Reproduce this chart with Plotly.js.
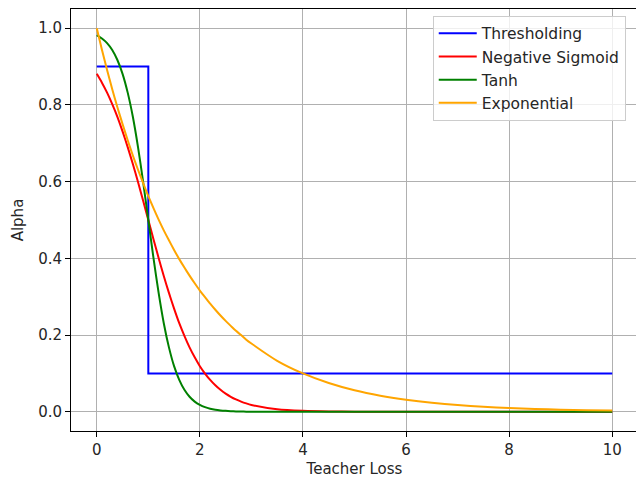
<!DOCTYPE html>
<html>
<head>
<meta charset="utf-8">
<script src="https://cdn.plot.ly/plotly-3.0.1.min.js"></script>
<style>
html,body{margin:0;padding:0;overflow:hidden;background:#fff;}
#chart{width:638px;height:478px;}
</style>
</head>
<body>
<div id="chart"></div>
<script>
// Thresholding (step)
var threshX = [0, 1, 1, 10];
var threshY = [0.9, 0.9, 0.1, 0.1];

// shared x grid for smooth curves
var curveX = [0,0.1,0.2,0.3,0.4,0.5,0.6,0.7,0.8,0.9,1.0,1.1,1.2,1.3,1.4,1.5,1.6,1.7,1.8,1.9,2.0,
              2.1,2.2,2.3,2.4,2.5,2.6,2.7,2.8,2.9,3.0,3.5,4.0,4.5,5.0,5.5,6.0,6.5,7.0,7.5,8.0,8.5,9.0,9.5,10.0];

var sigmoidY = [0.881,0.858,0.832,0.802,0.769,0.731,0.690,0.646,0.599,0.550,0.500,0.450,0.401,0.354,0.310,0.269,0.231,0.198,0.168,0.142,0.119,
                0.0998,0.0832,0.0691,0.0573,0.0474,0.0392,0.0323,0.0266,0.0219,0.018,0.0067,0.0025,0.0009,0.0003,0.0001,0,0,0,0,0,0,0,0,0];

var tanhY = [0.982,0.973,0.961,0.943,0.917,0.881,0.832,0.769,0.690,0.599,0.500,0.401,0.310,0.231,0.168,0.119,0.0832,0.0573,0.0392,0.0266,0.018,
             0.0121,0.0082,0.0055,0.0037,0.0025,0.0017,0.0011,0.0007,0.0005,0.0003,0,0,0,0,0,0,0,0,0,0,0,0,0,0];

var expY = [1.0,0.944,0.891,0.841,0.794,0.750,0.708,0.668,0.631,0.596,0.562,0.531,0.501,0.473,0.447,0.422,0.398,0.376,0.355,0.335,0.316,
            0.299,0.282,0.266,0.251,0.237,0.224,0.211,0.200,0.188,0.178,0.133,0.100,0.075,0.056,0.042,0.0316,0.0237,0.0178,0.0133,0.010,0.0075,0.0056,0.0042,0.0032];

var seriesNames = ['Thresholding', 'Negative Sigmoid', 'Tanh', 'Exponential'];
var xTicks = [0, 2, 4, 6, 8, 10];
var yTicks = [0.0, 0.2, 0.4, 0.6, 0.8, 1.0];

var FONT = 'DejaVu Sans, sans-serif';

var traces = [
  {x: threshX, y: threshY, name: seriesNames[0], mode: 'lines', line: {color: '#0000ff', width: 2}},
  {x: curveX, y: sigmoidY, name: seriesNames[1], mode: 'lines', line: {color: '#ff0000', width: 2, shape: 'spline', smoothing: 0.6}},
  {x: curveX, y: tanhY, name: seriesNames[2], mode: 'lines', line: {color: '#008000', width: 2, shape: 'spline', smoothing: 0.6}},
  {x: curveX, y: expY, name: seriesNames[3], mode: 'lines', line: {color: '#ffa500', width: 2, shape: 'spline', smoothing: 0.6}}
];

var axisCommon = {
  showline: true, mirror: true, linecolor: '#000', linewidth: 1,
  ticks: 'outside', ticklen: 5, tickwidth: 1, tickcolor: '#000',
  showgrid: true, gridcolor: '#b0b0b0', gridwidth: 1,
  zeroline: false,
  tickfont: {family: FONT, size: 15, color: '#262626'}
};

var layout = {
  width: 638, height: 478,
  margin: {l: 71, r: 0, t: 9, b: 47},
  paper_bgcolor: '#fff', plot_bgcolor: '#fff',
  font: {family: FONT, color: '#262626'},
  showlegend: true,
  xaxis: Object.assign({}, axisCommon, {
    range: [-0.5, 10.5], tickvals: xTicks, ticktext: xTicks.map(String),
    title: {text: 'Teacher Loss', font: {family: FONT, size: 15, color: '#262626'}, standoff: 6}
  }),
  yaxis: Object.assign({}, axisCommon, {
    range: [-0.05, 1.05], tickvals: yTicks, ticktext: yTicks.map(function(v){return v.toFixed(1);}),
    title: {text: 'Alpha', font: {family: FONT, size: 15, color: '#262626'}, standoff: 10}
  }),
  legend: {
    x: 0.638, xanchor: 'left', y: 0.984, yanchor: 'top',
    bgcolor: 'rgba(255,255,255,0.8)', bordercolor: '#cccccc', borderwidth: 1,
    font: {family: FONT, size: 15.5, color: '#262626'},
    itemwidth: 38
  }
};

Plotly.newPlot('chart', traces, layout, {displayModeBar: false, staticPlot: true});
</script>
</body>
</html>
